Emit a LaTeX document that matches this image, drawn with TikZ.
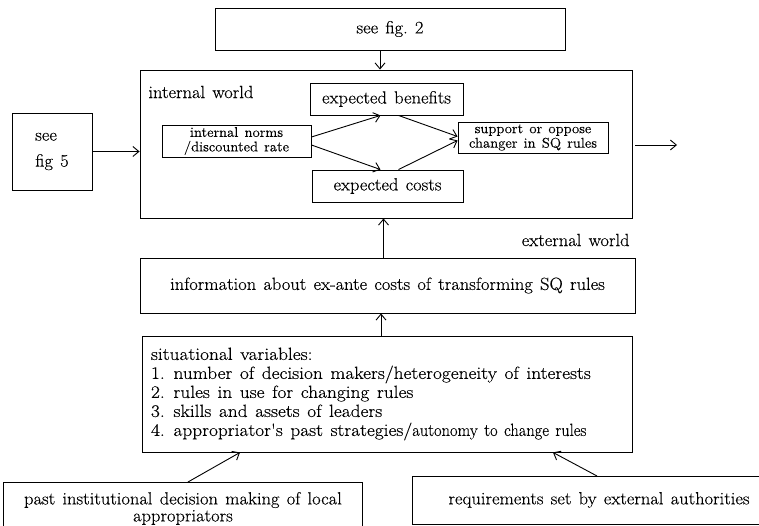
\documentclass[tikz,border=0pt]{standalone}
\usepackage{fontspec}
\setmainfont{Latin Modern Roman}[WordSpace=1.3, FakeStretch=1.05, FakeBold=0.3]
\newfontfamily\situFont{Latin Modern Roman}[FakeStretch=1.1, FakeBold=0.3]
\usepackage{tikz}
\usetikzlibrary{arrows, arrows.meta}
\usetikzlibrary{positioning}
\usetikzlibrary{calc}

\begin{document}
\begin{tikzpicture}[x=1pt, y=-1pt, line width=0.9pt,
	every node/.style={font=\fontsize{17.6}{19}\selectfont},
	box/.style={draw, rectangle, inner sep=4pt},
	smallBox/.style={box, font=\fontsize{14}{14.5}\selectfont, align=center, inner sep=2pt},
	link/.style={-{Straight Barb[length=6pt, width=10pt]}}]
	\useasboundingbox (0,0) rectangle (759,526);
	\clip (0,0) rectangle (759,526);
	% frames
	\node[box, minimum width=350pt, minimum height=42pt] (seeFigTwo) at (390,29) {see fig.~2};
	\node[box, minimum width=492pt, minimum height=148pt] (internalWorld) at (386,144) {};
	\node[box, minimum width=80pt, minimum height=77pt, align=left, font=\fontsize{17.6}{26}\selectfont] (seeFigFive) at (52,151.5) {see\\fig 5};
	\node[anchor=west, inner sep=0pt] (internalLabel) at (148,92) {internal world};
	% inside the internal world
	\node[box, minimum width=153pt, minimum height=32pt] (expBenefits) at (386.5,99) {expected benefits};
	\node[smallBox, minimum width=149pt, minimum height=32pt] (internalNorms) at (236.5,141) {internal norms\\/discounted rate};
	\node[box, minimum width=151pt, minimum height=32pt] (expCosts) at (387.5,186) {expected costs};
	\node[smallBox, minimum width=150pt, minimum height=31pt] (supportOppose) at (533,137.5) {support or oppose\\changer in SQ rules};
	\coordinate (outEnd) at (677,145);
	% external world
	\node[anchor=east, inner sep=0pt] (externalLabel) at (630,240) {external world};
	\node[box, minimum width=495pt, minimum height=55pt] (information) at (387.5,285.5) {information about ex-ante costs of transforming SQ rules};
	\node[box, minimum width=490pt, minimum height=116pt, text width=472pt, align=left, inner xsep=9pt,
		font=\situFont\fontsize{17.6}{19}\selectfont] (situational) at (387,394)
		{\spaceskip=1.3\fontdimen2\font plus 1\fontdimen3\font minus 1\fontdimen4\font\relax
		situational variables:\\
		1. number of decision makers/heterogeneity of interests\\
		2. rules in use for changing rules\\
		3. skills and assets of leaders\\
		4. appropriator's past strategies/\scalebox{0.85}[1]{autonomy to change rules}};
	\node[box, minimum width=359pt, minimum height=52pt, align=center, font=\fontsize{17.6}{17}\selectfont, anchor=north west] (pastDecision) at (3,482)
		{past institutional decision making of local\\appropriators};
	\node[box, minimum width=360pt, minimum height=48pt, anchor=north west] (requirements) at (412,476) {};
	\node (reqText) at (599,500) {requirements set by external authorities};
	% connectors
	\draw[link] ([xshift=-10pt]seeFigTwo.south) -- ([xshift=-6pt]internalWorld.north);
	\draw[link] (seeFigFive.east) -- (seeFigFive.east -| internalWorld.west);
	\draw[link] ([yshift=4pt]internalNorms.east) -- ([xshift=-6pt]expBenefits.south);
	\draw[link] ([yshift=-4pt]internalNorms.east) -- ([xshift=-7pt]expCosts.north);
	\draw[link] ([xshift=12pt]expBenefits.south) -- ([yshift=1pt]supportOppose.west);
	\draw[link] ([xshift=11pt]expCosts.north) -- ([yshift=-3pt]supportOppose.west);
	\draw[link] (outEnd -| internalWorld.east) ++(3,0) -- (outEnd);
	\draw[link] ([xshift=-4pt]information.north) -- ([xshift=-4pt]information.north |- internalWorld.south);
	\draw[link] ([xshift=-6pt]situational.north) -- ([xshift=-6pt]situational.north |- information.south);
	\draw[link] ([xshift=5pt]pastDecision.north) -- ([xshift=-147pt]situational.south);
	\draw[link] ([xshift=-2pt]reqText.north |- requirements.north) -- ([xshift=166pt]situational.south);
\end{tikzpicture}
\end{document}
